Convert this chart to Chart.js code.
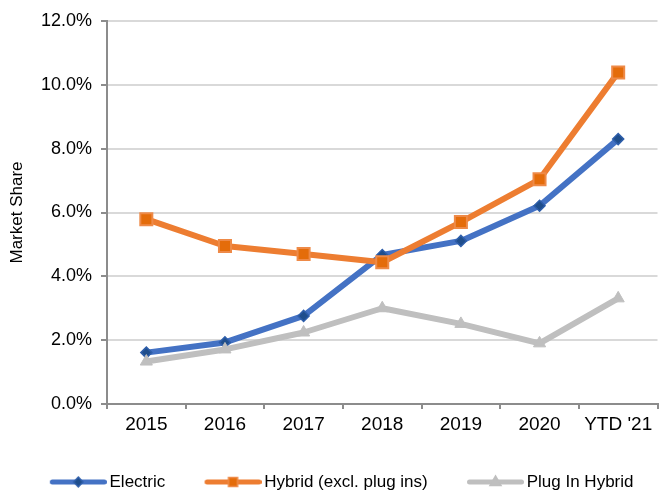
<!DOCTYPE html>
<html><head><meta charset="utf-8">
<script src="https://cdn.jsdelivr.net/npm/chart.js@4/dist/chart.umd.min.js"></script>
<style>html,body{margin:0;padding:0;background:#fff}</style>
</head><body>
<canvas id="c" width="668" height="493"></canvas>
<script>
const categories = ['2015', '2016', '2017', '2018', '2019', '2020', "YTD '21"];
const electric = [1.61, 1.93, 2.76, 4.67, 5.11, 6.21, 8.30];
const hybrid = [5.79, 4.95, 4.70, 4.44, 5.70, 7.04, 10.39];
const plugIn = [1.33, 1.71, 2.24, 3.00, 2.51, 1.90, 3.31];
const seriesNames = ['Electric', 'Hybrid (excl. plug ins)', 'Plug In Hybrid'];
const yTicks = [0, 2, 4, 6, 8, 10, 12];

const FONT = "'Liberation Sans', Arial, sans-serif";

function legendImage(lineColor, shape, fill, border) {
  const c = document.createElement('canvas');
  c.width = 102; c.height = 20;
  const ctx = c.getContext('2d');
  ctx.strokeStyle = lineColor; ctx.lineWidth = 5; ctx.lineCap = 'round';
  ctx.beginPath(); ctx.moveTo(47.5, 10); ctx.lineTo(99.5, 10); ctx.stroke();
  const cx = 73.5, cy = 10;
  ctx.fillStyle = fill; ctx.strokeStyle = border; ctx.lineWidth = 1.5;
  ctx.beginPath();
  if (shape === 'diamond') {
    ctx.moveTo(cx, cy - 5); ctx.lineTo(cx + 4.5, cy); ctx.lineTo(cx, cy + 5); ctx.lineTo(cx - 4.5, cy);
  } else if (shape === 'square') {
    ctx.rect(cx - 4.5, cy - 4.5, 9, 9);
  } else {
    ctx.moveTo(cx, cy - 6); ctx.lineTo(cx + 5.5, cy + 3.5); ctx.lineTo(cx - 5.5, cy + 3.5);
  }
  ctx.closePath(); ctx.fill(); ctx.stroke();
  return c;
}
const legendImgs = [
  legendImage('#4472C4', 'diamond', '#1F4E8C', '#2E5EAA'),
  legendImage('#ED7D31', 'square', '#E46C0A', '#EE8A48'),
  legendImage('#BFBFBF', 'triangle', '#BFBFBF', '#BFBFBF')
];

new Chart(document.getElementById('c'), {
  type: 'line',
  data: {
    labels: categories,
    datasets: [
      { label: seriesNames[0], data: electric, borderColor: '#4472C4', borderWidth: 6,
        pointStyle: 'rectRot', pointRadius: 5.5, pointBackgroundColor: '#1F4E8C',
        pointBorderColor: '#2E5EAA', pointBorderWidth: 1.5, tension: 0, order: 3,
        borderCapStyle: 'round', borderJoinStyle: 'round' },
      { label: seriesNames[1], data: hybrid, borderColor: '#ED7D31', borderWidth: 6,
        pointStyle: 'rect', pointRadius: 8.5, pointBackgroundColor: '#E46C0A',
        pointBorderColor: '#EE8A48', pointBorderWidth: 2, tension: 0, order: 2,
        borderCapStyle: 'round', borderJoinStyle: 'round' },
      { label: seriesNames[2], data: plugIn, borderColor: '#BFBFBF', borderWidth: 6,
        pointStyle: 'triangle', pointRadius: 7, pointBackgroundColor: '#BFBFBF',
        pointBorderColor: '#BFBFBF', pointBorderWidth: 1, tension: 0, order: 1,
        borderCapStyle: 'round', borderJoinStyle: 'round' }
    ]
  },
  options: {
    responsive: false,
    devicePixelRatio: 1,
    animation: false,
    layout: { padding: { top: 21, right: 0, bottom: -7.5, left: -24 } },
    plugins: {
      tooltip: { enabled: false },
      legend: {
        position: 'bottom',
        labels: {
          usePointStyle: true,
          pointStyleWidth: 90.5,
          padding: 0,
          color: '#000',
          font: { family: FONT, size: 17 },
          generateLabels: (chart) => chart.data.datasets.map((ds, i) => ({
            text: ds.label, pointStyle: legendImgs[i], fillStyle: 'transparent',
            strokeStyle: 'transparent', lineWidth: 0, hidden: false, datasetIndex: i,
            fontColor: '#000'
          }))
        }
      }
    },
    scales: {
      x: {
        offset: true,
        grid: { offset: true, drawOnChartArea: false, drawTicks: true, tickLength: 5,
                tickWidth: 2, tickColor: '#8C8C8C', lineWidth: 2, color: '#8C8C8C' },
        border: { color: '#8C8C8C', width: 2 },
        ticks: { font: { family: FONT, size: 19 }, color: '#000', padding: 4,
                 maxRotation: 0, autoSkip: false },
        afterFit: (s) => { s.height = 69.5; }
      },
      y: {
        min: 0, max: 12,
        afterBuildTicks: (s) => { s.ticks = yTicks.map(v => ({ value: v })); },
        ticks: { callback: (v) => v.toFixed(1) + '%', font: { family: FONT, size: 18 },
                 color: '#000', padding: 9 },
        grid: { color: '#D9D9D9', lineWidth: 2, tickColor: '#8C8C8C', tickLength: 6, tickWidth: 2 },
        border: { color: '#8C8C8C', width: 2 },
        title: { display: true, text: 'Market Share', color: '#000',
                 font: { family: FONT, size: 17 }, padding: { top: 31, bottom: 0 } },
        afterFit: (s) => { s.width = 131; }
      }
    }
  }
});
</script>
</body></html>
